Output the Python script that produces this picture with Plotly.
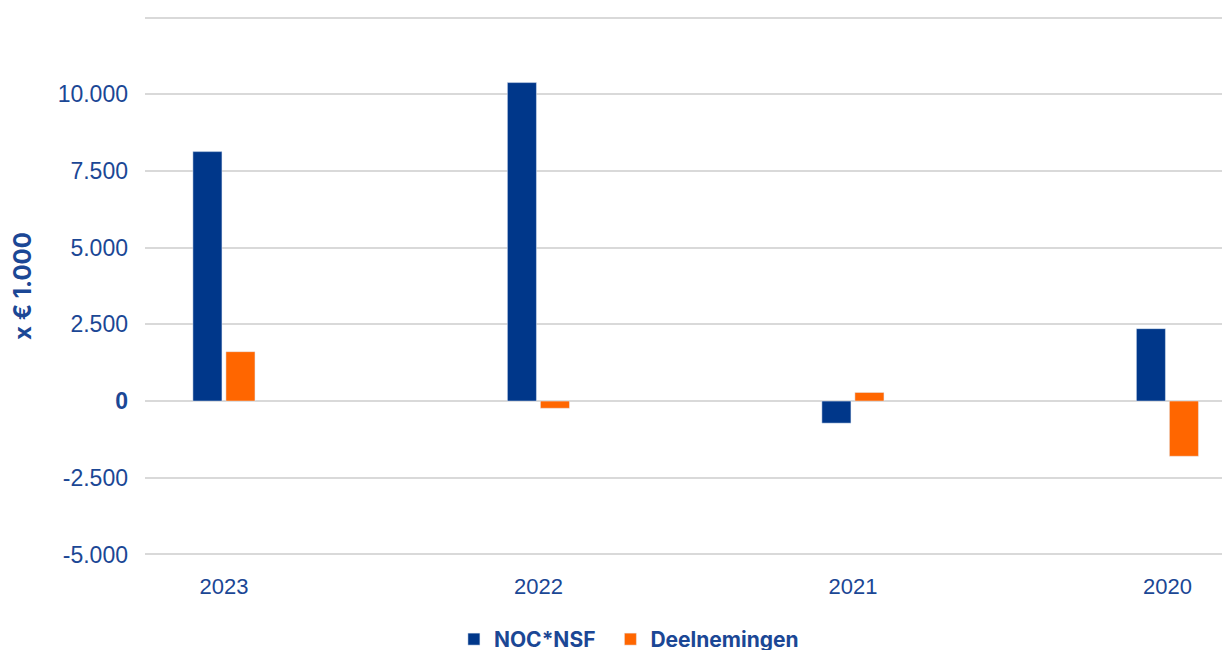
import plotly.graph_objects as go

years = ["2023", "2022", "2021", "2020"]
noc_nsf = [8130, 10380, -720, 2360]
deelnemingen = [1610, -235, 280, -1800]

tick_vals = [-5000, -2500, 0, 2500, 5000, 7500, 10000, 12500]
tick_text = ["-5.000", "-2.500", "<b>0</b>", "2.500", "5.000", "7.500", "10.000", ""]

navy = "#00378A"
orange = "#FF6600"
label_blue = "#1B4795"

fig = go.Figure()
fig.add_trace(go.Bar(x=years, y=noc_nsf, name="NOC*NSF\u00a0\u00a0", marker_color=navy))
fig.add_trace(go.Bar(x=years, y=deelnemingen, name="Deelnemingen", marker_color=orange))

fig.update_layout(
    width=1222, height=642,
    margin=dict(l=137, r=0, t=8, b=94),
    paper_bgcolor="white", plot_bgcolor="white",
    barmode="group", bargap=0.79, bargroupgap=0.12,
    showlegend=True,
    legend=dict(orientation="h", xref="paper", x=0.446, xanchor="center",
                yref="container", y=0.0164, yanchor="middle",
                font=dict(family="Inter", size=21, color=label_blue, weight="bold"),
                itemwidth=30, traceorder="normal"),
    font=dict(family="Liberation Sans, Arial", color=label_blue),
)
fig.update_xaxes(type="category", range=[-0.251, 3.199], showgrid=False, zeroline=False,
                 showline=False, tickfont=dict(size=22, color=label_blue),
                 ticks="", ticklabelstandoff=15)
fig.update_yaxes(range=[-5050, 12550], tickvals=tick_vals, ticktext=tick_text,
                 showgrid=True, gridcolor="#D9D9D9", gridwidth=2,
                 zeroline=True, zerolinecolor="#D9D9D9", zerolinewidth=2,
                 showline=False, tickfont=dict(size=23, color=label_blue),
                 ticks="", ticklabelstandoff=16)
fig.add_annotation(text="<b>x € 1.000</b>", xref="paper", yref="paper",
                   x=-0.1134, y=0.5, xanchor="center", yanchor="middle",
                   textangle=-90, showarrow=False,
                   font=dict(family="Inter", size=24, color=label_blue))

fig.write_html("out.html")
